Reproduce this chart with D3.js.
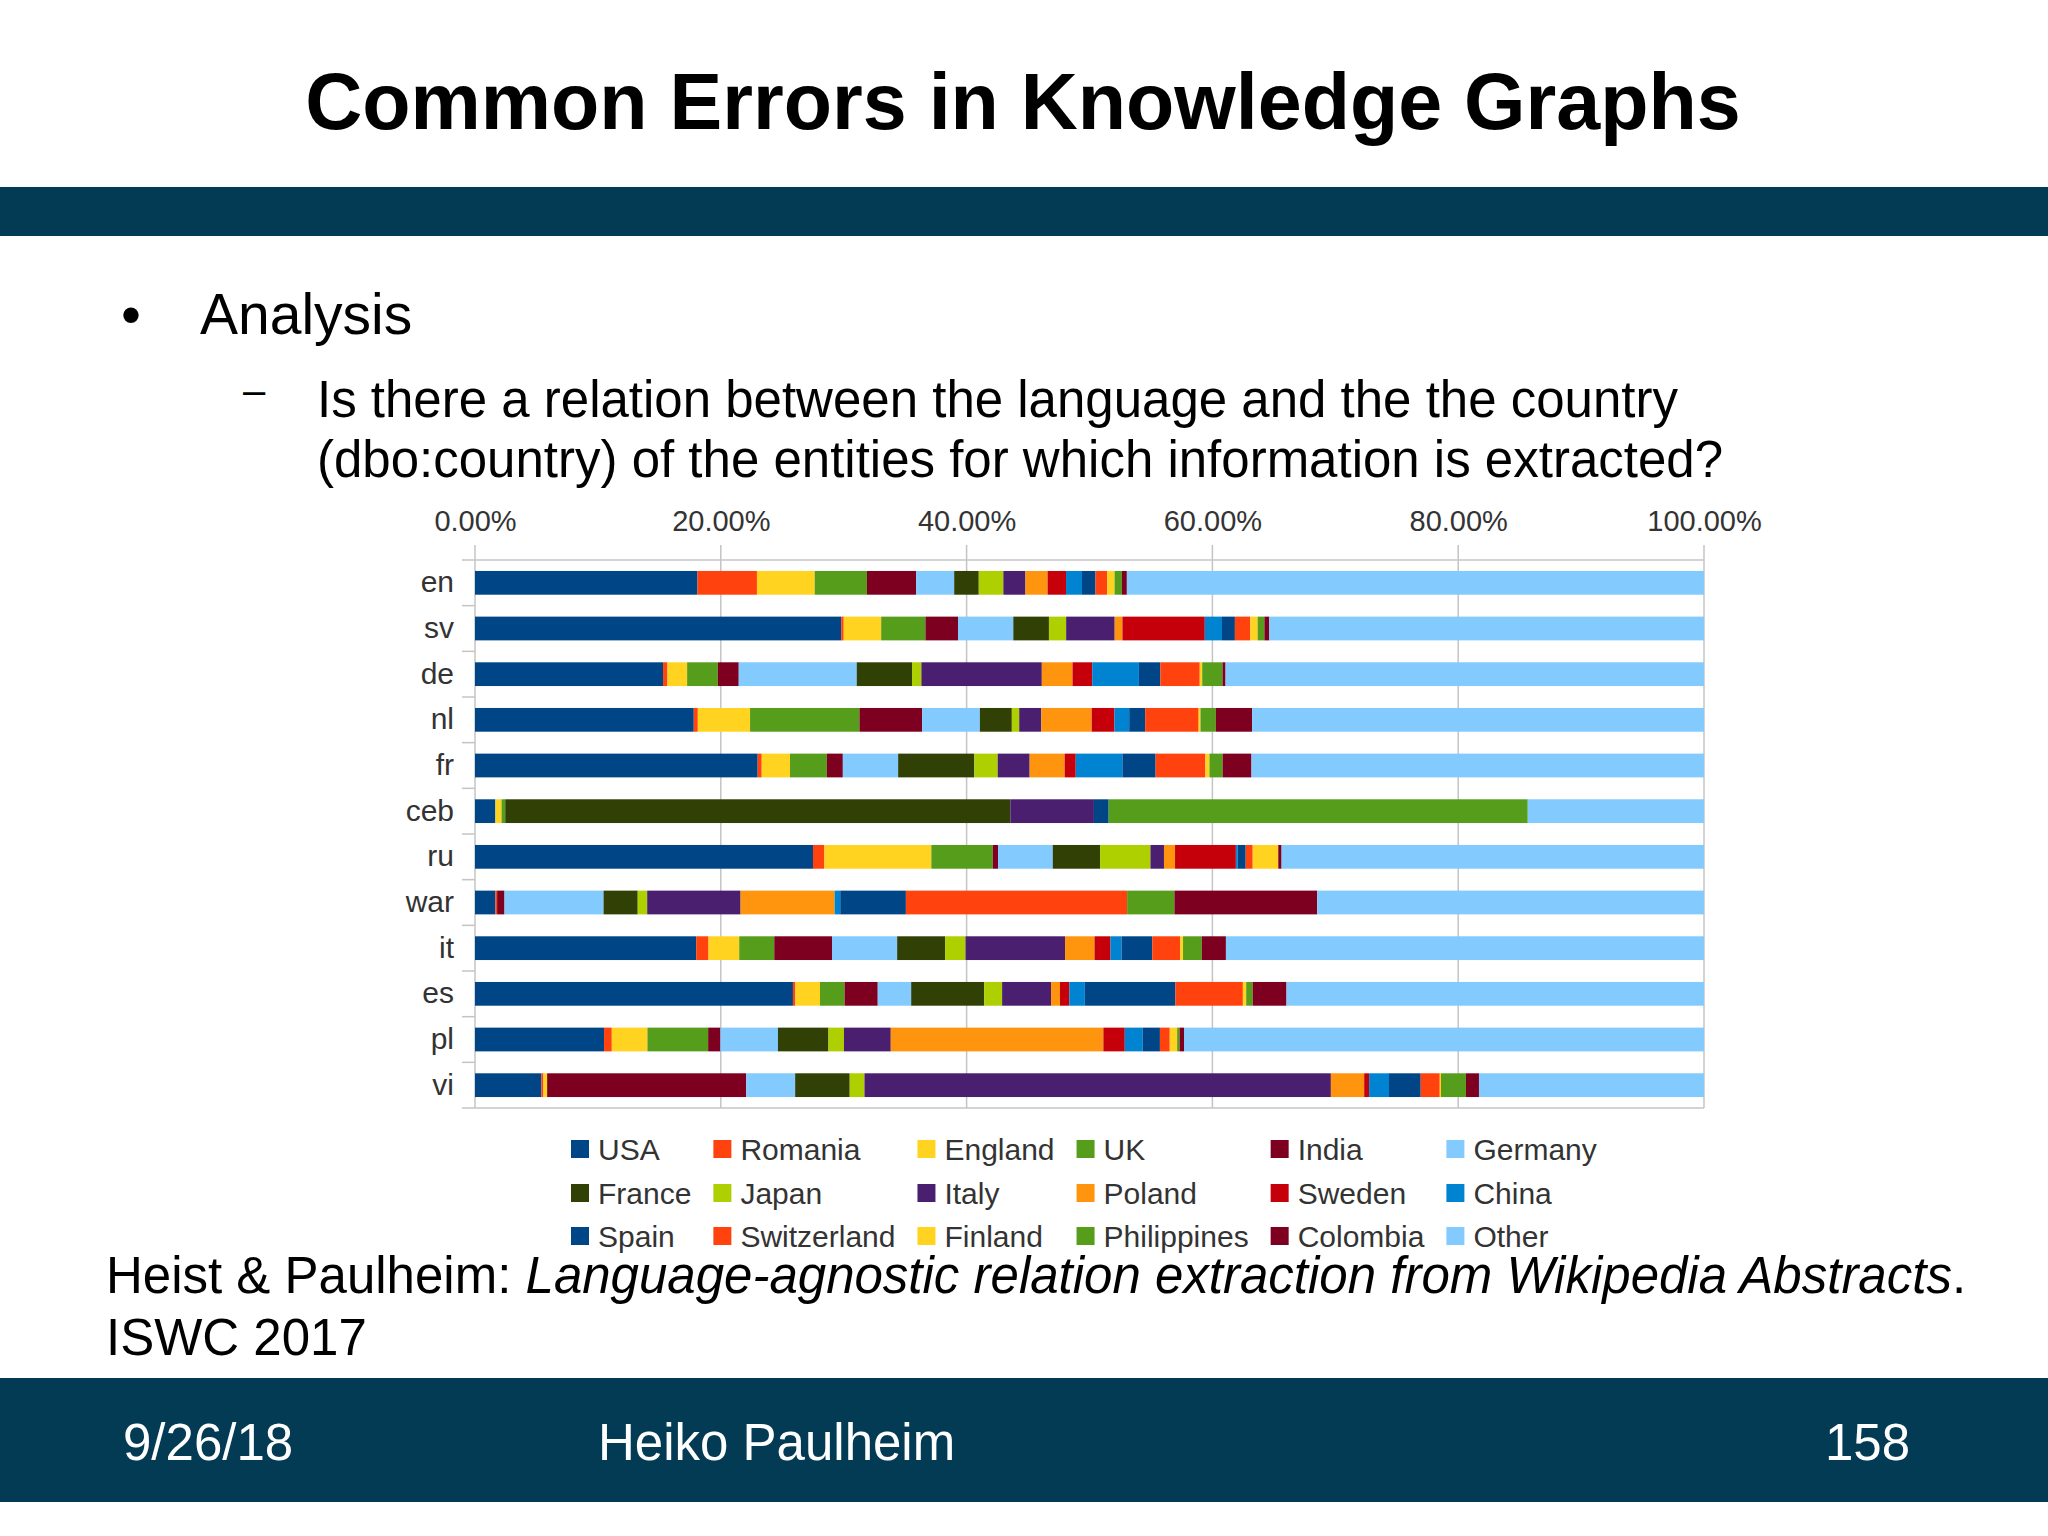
<!DOCTYPE html>
<html>
<head>
<meta charset="utf-8">
<script src="https://cdn.jsdelivr.net/npm/d3@7"></script>
<style>
  body { margin: 0; background: #fff; }
  svg { display: block; font-family: "Liberation Sans", Arial, sans-serif; }
</style>
</head>
<body>
<svg width="2048" height="1536"></svg>
<script>
// wikipedia languages, top to bottom
const languages = ["en", "sv", "de", "nl", "fr", "ceb", "ru", "war", "it", "es", "pl", "vi"];

// countries in stacking (and legend) order
const countries = ["USA", "Romania", "England", "UK", "India", "Germany",
  "France", "Japan", "Italy", "Poland", "Sweden", "China",
  "Spain", "Switzerland", "Finland", "Philippines", "Colombia", "Other"];

// share (%) per language, same order as languages
const usa         = [18.1, 29.8, 15.3, 17.8, 23.0, 1.66, 27.5, 1.66, 18.0, 25.87, 10.5, 5.4];
const romania     = [4.84, 0.2, 0.36, 0.33, 0.33, 0, 0.93, 0.14, 1.0, 0.2, 0.63, 0.17];
const england     = [4.7, 3.05, 1.6, 4.25, 2.3, 0.5, 8.7, 0, 2.5, 2.0, 2.9, 0.3];
const uk          = [4.25, 3.6, 2.5, 8.9, 3.0, 0.3, 5.0, 0, 2.85, 2.0, 4.94, 0];
const india       = [4.0, 2.65, 1.7, 5.1, 1.3, 0, 0.43, 0.6, 4.7, 2.7, 1.0, 16.2];
const germany     = [3.1, 4.5, 9.6, 4.7, 4.5, 0, 4.45, 8.06, 5.3, 2.72, 4.68, 3.98];
const france      = [2.0, 2.9, 4.5, 2.6, 6.2, 41.1, 3.85, 2.78, 3.9, 5.94, 4.11, 4.44];
const japan       = [2.0, 1.4, 0.76, 0.6, 1.9, 0, 4.1, 0.77, 1.66, 1.46, 1.26, 1.2];
const italy       = [1.8, 3.95, 9.8, 1.8, 2.6, 6.8, 1.1, 7.6, 8.1, 3.98, 3.81, 37.95];
const poland      = [1.8, 0.63, 2.5, 4.1, 2.85, 0, 0.9, 7.65, 2.4, 0.73, 17.3, 2.71];
const sweden      = [1.5, 6.7, 1.6, 1.85, 0.9, 0, 4.95, 0, 1.3, 0.76, 1.74, 0.4];
const china       = [1.3, 1.4, 3.8, 1.2, 3.8, 0, 0.15, 0.46, 0.9, 1.26, 1.46, 1.62];
const spain       = [1.1, 1.05, 1.75, 1.3, 2.7, 1.2, 0.65, 5.34, 2.5, 7.37, 1.4, 2.58];
const switzerland = [0.95, 1.25, 3.2, 4.35, 4.05, 0, 0.57, 18.0, 2.27, 5.49, 0.8, 1.55];
const finland     = [0.6, 0.6, 0.2, 0.15, 0.33, 0, 2.08, 0, 0.23, 0.27, 0.6, 0.1];
const philippines = [0.6, 0.55, 1.65, 1.25, 1.07, 34.1, 0, 3.85, 1.53, 0.53, 0.2, 2.03];
const colombia    = [0.4, 0.4, 0.25, 2.95, 2.35, 0, 0.27, 11.62, 1.96, 2.75, 0.36, 1.06];
const other       = [46.96, 35.37, 38.93, 36.77, 36.82, 14.34, 34.37, 31.47, 38.9, 33.97, 42.31, 18.31];

const xTicks = [0, 0.2, 0.4, 0.6, 0.8, 1];

// libreoffice default chart palette (wraps after 12)
const palette = ["#004586", "#ff420e", "#ffd320", "#579d1c", "#7e0021", "#83caff",
  "#314004", "#aecf00", "#4b1f6f", "#ff950e", "#c5000b", "#0084d1"];

const seriesValues = [usa, romania, england, uk, india, germany, france, japan, italy,
  poland, sweden, china, spain, switzerland, finland, philippines, colombia, other];

// one row per language for d3.stack
const rows = languages.map((lang, i) => {
  const row = { lang: lang };
  countries.forEach((c, j) => { row[c] = seriesValues[j][i]; });
  return row;
});

const stacked = d3.stack()
  .keys(countries)
  .offset(d3.stackOffsetExpand)(rows);

const color = d3.scaleOrdinal()
  .domain(countries)
  .range(countries.map((c, i) => palette[i % palette.length]));

const svg = d3.select("svg");
const band = "#033b55";

// ---- slide chrome ----
svg.append("text")
  .attr("x", 1023).attr("y", 129)
  .attr("text-anchor", "middle")
  .attr("font-size", 79).attr("font-weight", "bold")
  .text("Common Errors in Knowledge Graphs");

svg.append("rect").attr("x", 0).attr("y", 187).attr("width", 2048).attr("height", 49).attr("fill", band);

svg.append("text").attr("x", 121).attr("y", 334).attr("font-size", 57).text("\u2022");
svg.append("text").attr("x", 200).attr("y", 334).attr("font-size", 57).text("Analysis");
svg.append("text").attr("x", 243).attr("y", 404).attr("font-size", 40).text("\u2013");
svg.append("text").attr("x", 317).attr("y", 417).attr("font-size", 51)
  .text("Is there a relation between the language and the the country");
svg.append("text").attr("x", 317).attr("y", 477).attr("font-size", 51)
  .text("(dbo:country) of the entities for which information is extracted?");

// ---- chart ----
const margin = { left: 475, top: 560 };
const width = 1229, height = 548;

const x = d3.scaleLinear().domain([0, 1]).range([0, width]);
const y = d3.scaleBand().domain(languages).range([0, height]).paddingInner(0.48).paddingOuter(0.24);

const chart = svg.append("g").attr("transform", `translate(${margin.left},${margin.top})`);

// vertical grid lines, poking a little above the plot
chart.append("g")
  .selectAll("line")
  .data(xTicks)
  .join("line")
  .attr("x1", d => x(d)).attr("x2", d => x(d))
  .attr("y1", -15).attr("y2", height)
  .attr("stroke", "#c4c4c4").attr("stroke-width", 1.5);

// top / bottom frame lines
chart.append("g")
  .selectAll("line")
  .data([0, height])
  .join("line")
  .attr("x1", -13).attr("x2", width)
  .attr("y1", d => d).attr("y2", d => d)
  .attr("stroke", "#c4c4c4").attr("stroke-width", 1.5);

// category tick marks at band boundaries
const step = y.step();
chart.append("g")
  .selectAll("line")
  .data(d3.range(1, languages.length))
  .join("line")
  .attr("x1", -13).attr("x2", 0)
  .attr("y1", d => d * step).attr("y2", d => d * step)
  .attr("stroke", "#c4c4c4").attr("stroke-width", 1.5);

const xAxis = chart.append("g")
  .call(d3.axisTop(x).tickValues(xTicks).tickFormat(d3.format(".2%")).tickSize(0).tickPadding(29));
xAxis.select(".domain").remove();
xAxis.selectAll("text").attr("font-size", 29).attr("fill", "#333").attr("font-family", null);

const yAxis = chart.append("g")
  .call(d3.axisLeft(y).tickSize(0).tickPadding(21));
yAxis.select(".domain").remove();
yAxis.selectAll("text").attr("font-size", 30).attr("fill", "#333").attr("font-family", null);

// stacked bars
chart.append("g")
  .selectAll("g")
  .data(stacked)
  .join("g")
  .attr("fill", d => color(d.key))
  .selectAll("rect")
  .data(d => d)
  .join("rect")
  .attr("x", d => x(d[0]))
  .attr("y", d => y(d.data.lang))
  .attr("width", d => x(d[1]) - x(d[0]))
  .attr("height", y.bandwidth());

// ---- legend: 6 columns x 3 rows, column widths from text ----
const legendCols = 6;
const legendRowY = [1149, 1193, 1236];
const legend = svg.append("g").attr("font-size", 30).attr("fill", "#333");

const probe = legend.append("text").attr("visibility", "hidden");
const textW = countries.map(c => { probe.text(c); return probe.node().getComputedTextLength(); });
probe.remove();

const colX = [];
let cx = 571;
for (let c = 0; c < legendCols; c++) {
  colX.push(cx);
  const w = d3.max(countries.filter((_, i) => i % legendCols === c), (n) => textW[countries.indexOf(n)]);
  cx += 27 + w + 22;
}

const item = legend.selectAll("g")
  .data(countries)
  .join("g")
  .attr("transform", (d, i) => `translate(${colX[i % legendCols]},${legendRowY[Math.floor(i / legendCols)]})`);
item.append("rect").attr("x", 0).attr("y", -9).attr("width", 18).attr("height", 18).attr("fill", d => color(d));
item.append("text").attr("x", 27).attr("y", 11).text(d => d);

// ---- citation ----
const cite = svg.append("text").attr("x", 106).attr("y", 1293).attr("font-size", 51);
cite.append("tspan").text("Heist & Paulheim: ");
cite.append("tspan").attr("font-style", "italic").text("Language-agnostic relation extraction from Wikipedia Abstracts");
cite.append("tspan").text(".");
svg.append("text").attr("x", 106).attr("y", 1355).attr("font-size", 51).text("ISWC 2017");

// ---- footer ----
svg.append("rect").attr("x", 0).attr("y", 1378).attr("width", 2048).attr("height", 124).attr("fill", band);
const foot = svg.append("g").attr("fill", "#fff").attr("font-size", 51);
foot.append("text").attr("x", 123).attr("y", 1460).text("9/26/18");
foot.append("text").attr("x", 598).attr("y", 1460).text("Heiko Paulheim");
foot.append("text").attr("x", 1910).attr("y", 1460).attr("text-anchor", "end").text("158");
</script>
</body>
</html>
